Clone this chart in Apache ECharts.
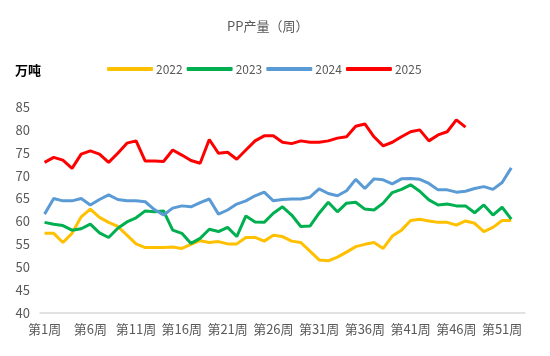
<!DOCTYPE html>
<html><head><meta charset="utf-8">
<script src="https://cdn.jsdelivr.net/npm/echarts@6/dist/echarts.min.js"></script>
<style>html,body{margin:0;padding:0;background:#fff}#c{width:550px;height:356px}</style>
</head><body><div id="c"></div>
<script>
const weeks = [];
for (let i = 1; i <= 53; i++) weeks.push('第' + i + '周');
const yTicks = [40, 45, 50, 55, 60, 65, 70, 75, 80, 85];
const seriesNames = ['2022', '2023', '2024', '2025'];
const s2022 = [57.4,57.4,55.4,57.4,61.0,62.7,60.9,59.8,58.9,57.0,55.1,54.3,54.3,54.3,54.4,54.1,55.0,55.8,55.4,55.6,55.1,55.1,56.5,56.5,55.7,57.0,56.7,55.7,55.4,53.5,51.6,51.4,52.2,53.3,54.5,55.0,55.4,54.1,56.8,58.1,60.2,60.5,60.1,59.8,59.8,59.2,60.1,59.6,57.8,58.7,60.2,60.2];
const s2023 = [59.8,59.4,59.1,58.1,58.4,59.4,57.5,56.5,58.5,59.9,60.8,62.3,62.1,62.3,58.1,57.4,55.2,56.3,58.3,57.8,58.7,56.7,61.2,59.9,59.8,61.8,63.2,61.4,58.9,59.0,61.8,64.2,62.1,64.0,64.2,62.7,62.5,64.0,66.3,67.0,68.0,66.6,64.7,63.6,63.8,63.4,63.4,61.9,63.6,61.4,63.1,60.5];
const s2024 = [61.6,65.0,64.5,64.5,65.0,63.6,64.8,65.8,64.8,64.5,64.5,64.3,62.6,61.4,62.9,63.4,63.2,64.1,64.9,61.6,62.5,63.8,64.5,65.6,66.4,64.5,64.8,64.9,64.9,65.3,67.1,66.1,65.6,66.7,69.2,67.2,69.3,69.1,68.2,69.3,69.4,69.2,68.3,66.9,66.9,66.4,66.6,67.2,67.6,67.0,68.5,71.7];
const s2025 = [72.9,74.0,73.4,71.6,74.7,75.4,74.7,72.9,74.9,77.1,77.6,73.2,73.2,73.1,75.6,74.5,73.3,72.7,77.9,74.9,75.1,73.6,75.6,77.6,78.7,78.7,77.3,77.0,77.6,77.3,77.3,77.6,78.2,78.5,80.8,81.3,78.5,76.5,77.3,78.5,79.6,80.0,77.6,78.9,79.6,82.2,80.6];
const colors = ['#FFC000', '#00B050', '#5B9BD5', '#FF0000'];
const allData = [s2022, s2023, s2024, s2025];

const font = '"Noto Sans CJK SC", "Noto Sans", sans-serif';
const chart = echarts.init(document.getElementById('c'));
chart.setOption({
  animation: false,
  title: { text: 'PP产量（周）', left: 222, top: 15,
    textStyle: { color: '#595959', fontSize: 13, fontWeight: 'normal', fontFamily: font } },
  legend: { data: seriesNames, top: 58, left: 102, icon: 'roundRect', itemWidth: 46, itemHeight: 4, itemGap: 4,
    textStyle: { color: '#595959', fontSize: 12, fontFamily: font, padding: [0, 0, 0, -2] } },
  graphic: [{ type: 'text', left: 15, top: 64, style: { text: '万吨', fill: '#000', font: 'bold 13px ' + font } }],
  grid: { left: 40, right: 25, top: 107, bottom: 43 },
  xAxis: { type: 'category', data: weeks, boundaryGap: true,
    axisLine: { lineStyle: { color: '#D9D9D9', width: 1.5 } }, axisTick: { show: false },
    axisLabel: { interval: 4, color: '#595959', fontSize: 13, fontFamily: font, margin: 10 } },
  yAxis: { type: 'value', min: yTicks[0], max: yTicks[yTicks.length - 1], interval: 5,
    axisLine: { show: false }, axisTick: { show: false }, splitLine: { show: false },
    axisLabel: { color: '#595959', fontSize: 13, fontFamily: font, margin: 10 } },
  series: seriesNames.map((n, i) => ({
    name: n, type: 'line', data: allData[i], symbol: 'none', smooth: false,
    lineStyle: { color: colors[i], width: 3 }, itemStyle: { color: colors[i] }
  }))
});
</script></body></html>
